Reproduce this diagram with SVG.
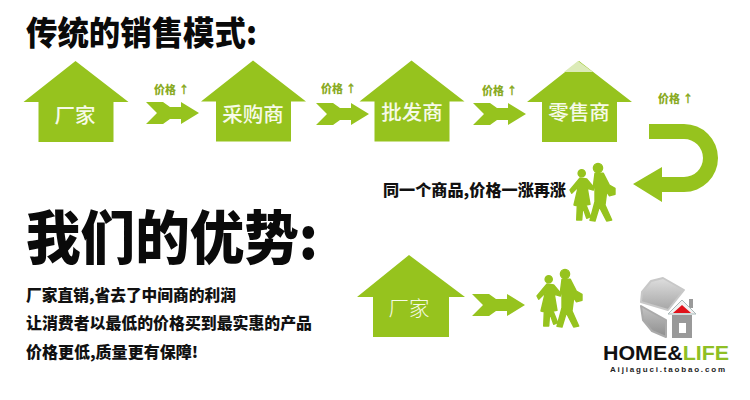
<svg xmlns="http://www.w3.org/2000/svg" width="750" height="400" viewBox="0 0 750 400">
<style>
text{font-family:"Noto Sans CJK SC","Noto Sans",sans-serif}
.g{fill:#96c31e}
.h{font-weight:900;fill:#0a0a0a}
.b{font-weight:900;fill:#111;font-size:15.5px}
.w{fill:#f6fae8;font-size:20.5px;text-anchor:middle;font-weight:500}
.p{fill:#8aab25;font-size:11px;font-weight:900}
.l{font-family:"Liberation Sans",sans-serif;font-weight:700}
</style>
<defs>
<path id="arrow" class="g" d="M0 0H17L24 5H35V0L53 11L35 22V17H24L17 22H0L11 11Z"/>
<path id="house" class="g" d="M0 -41L53 0H38V40H-37V0H-52Z"/>
<linearGradient id="lg1" x1="0" y1="0" x2="0" y2="1"><stop offset="0" stop-color="#dedede"/><stop offset="1" stop-color="#a6a6a6"/></linearGradient>
<linearGradient id="lg2" x1="0" y1="0" x2="0" y2="1"><stop offset="0" stop-color="#c4c4c4"/><stop offset="1" stop-color="#8e8e8e"/></linearGradient>
<g id="people" class="g" stroke="#96c31e" stroke-width="1.4" stroke-linejoin="round">
<circle cx="581.7" cy="173.3" r="3.600"/>
<circle cx="598" cy="168" r="4.600"/>
<path d="M580 178L570 190L571.7 193.3L578.3 186.7L574 205L577.3 205.7L576.7 220H581.7L582.7 206.7L586.7 218.3L590.7 216.7L586 205L590 204.3L587.3 188.3L593.3 190L594 187.7L586.7 179Z"/>
<path d="M595 173.3H603.3L609.3 185L615 188.3V194.3L609.3 195.700L606.700 191.700L605 205L611.700 220L606.700 221L599.300 206.700L595 221L590 220.300L595 201.700V188.300L593.300 186.700Z"/>
</g>
</defs>
<rect width="750" height="400" fill="#fff"/>
<text id="title1" class="h" x="26" y="45" font-size="33" textLength="231" lengthAdjust="spacingAndGlyphs">传统的销售模式:</text>
<text id="title2" class="h" x="26" y="259" font-size="58" textLength="292" lengthAdjust="spacingAndGlyphs">我们的优势:</text>
<g id="desc">
<text class="b" x="26" y="301" textLength="210" lengthAdjust="spacingAndGlyphs">厂家直销,省去了中间商的利润</text>
<text class="b" x="26" y="329" textLength="286" lengthAdjust="spacingAndGlyphs">让消费者以最低的价格买到最实惠的产品</text>
<text class="b" x="26" y="358" textLength="172" lengthAdjust="spacingAndGlyphs">价格更低,质量更有保障!</text>
</g>
<text id="note" class="b" x="383" y="196" textLength="183" lengthAdjust="spacingAndGlyphs">同一个商品,价格一涨再涨</text>

<g id="connectors">
<use href="#arrow" x="146" y="102"/>
<use href="#arrow" x="316" y="103"/>
<use href="#arrow" x="473" y="103"/>
<use href="#arrow" x="472" y="294"/>
<path class="g" d="M649 124H684A34 34 0 0 1 684 192H662V202L633 184L662 167V177H684A19 19 0 0 0 684 139H649Z"/>
<text class="p" x="154" y="94">价格 ↑</text>
<text class="p" x="321" y="93">价格 ↑</text>
<text class="p" x="482" y="95">价格 ↑</text>
<text class="p" x="658" y="103">价格 ↑</text>
</g>

<g id="node-factory"><use href="#house" x="75.500" y="102"/><text class="w" x="75" y="123">厂家</text></g>
<g id="node-buyer"><use href="#house" x="253" y="101.500"/><text class="w" x="253" y="122">采购商</text></g>
<g id="node-wholesaler"><use href="#house" x="411.500" y="101.500"/><text class="w" x="412" y="120">批发商</text></g>
<g id="node-retailer"><use href="#house" x="579" y="102"/><path fill="#dcebb8" d="M578 61L593 72H564Z"/><text class="w" x="579" y="120">零售商</text></g>
<g id="node-people-1"><use href="#people"/></g>
<g id="node-factory-2"><path class="g" d="M409 255L465 297H449V337H373V297H357Z"/><text class="w" x="409" y="316" style="font-weight:300">厂家</text></g>
<g id="node-people-2"><use href="#people" x="-33" y="106"/></g>

<g id="logo">
<path fill="url(#lg1)" stroke="#c8c8c8" stroke-width="2" stroke-linejoin="round" d="M641 302L642 292L651 281L663 278L684 290L668 310Z"/>
<path fill="url(#lg2)" stroke="#aaa" stroke-width="2" stroke-linejoin="round" d="M641 306L666 320V337L652 331L643 320Z"/>
<path fill="#9a9a9a" d="M689 299H693V308H689Z"/>
<path fill="#f2f2f2" stroke="#a8b8b8" d="M682 300L668 314H696Z"/>
<path fill="#e0121a" d="M682 305L673 313H691Z"/>
<path fill="#999" d="M672 315H692V338H672Z"/>
<path fill="#fff" d="M679 323H686V333H679Z"/>
<text class="l" x="603" y="360" font-size="20.500" textLength="126" lengthAdjust="spacingAndGlyphs" fill="#111">HOME&amp;<tspan fill="#8fbf25">LIFE</tspan></text>
<text class="l" x="610" y="372" font-size="8" textLength="115" fill="#222">Aijiaguci.taobao.com</text>
</g>
</svg>
